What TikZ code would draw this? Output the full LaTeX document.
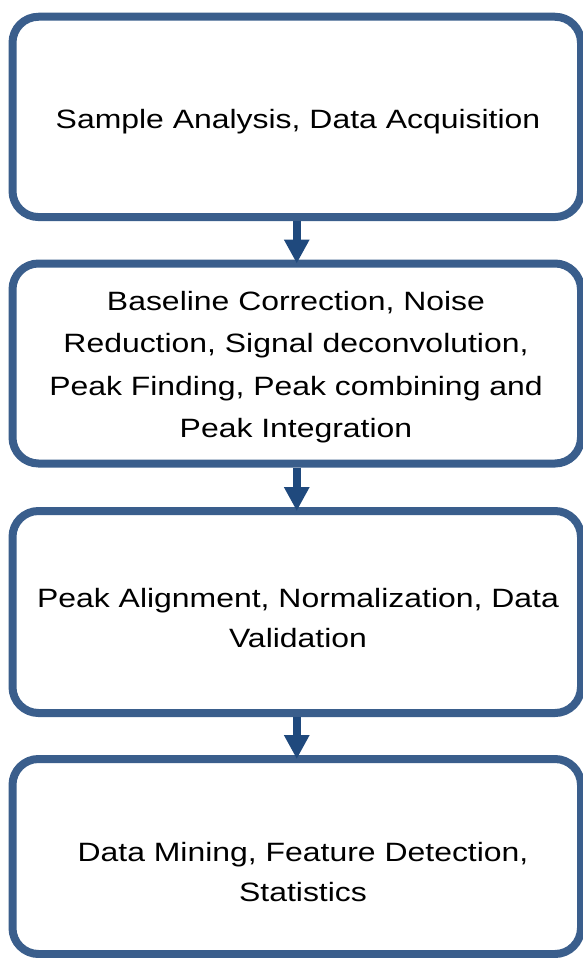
\documentclass[tikz,border=0pt]{standalone}
\usepackage{fontspec}
\setmainfont{Liberation Sans}[FakeStretch=1.205]
\usetikzlibrary{arrows.meta}
\definecolor{boxblue}{RGB}{58,94,140}
\definecolor{arrowblue}{RGB}{31,73,125}
\begin{document}
\begin{tikzpicture}[x=1pt,y=-1pt,
  stage/.style={draw=boxblue,line width=8pt,rounded corners=26pt,fill=white,
    minimum width=568.5pt,inner sep=0pt,outer sep=0pt},
  stagetext/.style={align=center,font=\fontsize{26.5}{42.5}\selectfont},
  flow/.style={draw=arrowblue,line width=8pt,-{Triangle[length=24pt,width=24pt]},shorten <=4pt}]
  \useasboundingbox (0,0) rectangle (582,958);
  % boxes
  \node[stage,minimum height=200.3pt] (acq) at (296.75,116.9) {};
  \node[stage,minimum height=200pt] (proc) at (296.75,363.5) {};
  \node[stage,minimum height=202pt] (align) at (296.75,612) {};
  \node[stage,minimum height=195pt] (mine) at (296.75,856.5) {};
  % texts
  \node[stagetext] (acqtxt) at (298,121.5) {Sample Analysis, Data Acquisition};
  \node[stagetext] (proctxt) at (296,367) {Baseline Correction, Noise\\Reduction, Signal deconvolution,\\Peak Finding, Peak combining and\\Peak Integration};
  \node[stagetext,font=\fontsize{26.5}{40}\selectfont] (aligntxt) at (298,618.5) {Peak Alignment, Normalization, Data\\Validation};
  \node[stagetext,font=\fontsize{26.5}{40}\selectfont] (minetxt) at (303,872) {Data Mining, Feature Detection,\\Statistics};
  % arrows
  \draw[flow] (acq.south) -- (proc.north);
  \draw[flow] (proc.south) -- (align.north);
  \draw[flow] (align.south) -- (mine.north);
\end{tikzpicture}
\end{document}
